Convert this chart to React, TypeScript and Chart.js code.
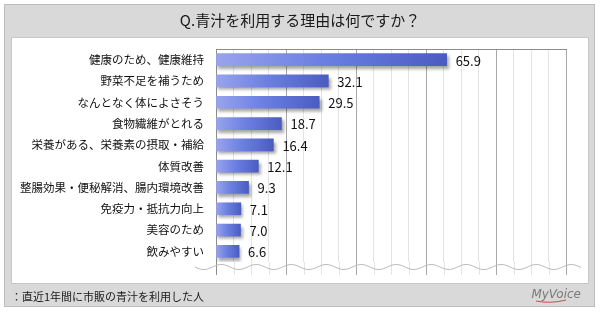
import React, { useEffect, useRef } from 'react';
import { Chart, registerables } from 'chart.js';

Chart.register(...registerables);

const categories = [
  '健康のため、健康維持',
  '野菜不足を補うため',
  'なんとなく体によさそう',
  '食物繊維がとれる',
  '栄養がある、栄養素の摂取・補給',
  '体質改善',
  '整腸効果・便秘解消、腸内環境改善',
  '免疫力・抵抗力向上',
  '美容のため',
  '飲みやすい',
];
const values = [65.9, 32.1, 29.5, 18.7, 16.4, 12.1, 9.3, 7.1, 7.0, 6.6];
const valueLabels = values.map((v) => v.toFixed(1));
const titleText = 'Q.青汁を利用する理由は何ですか？';
const footnoteText = '：直近1年間に市販の青汁を利用した人';
const brandText = 'MyVoice';
const axisMin = 0;
const axisMax = 100;
const minorStep = 5;
const majorStep = 20;

const FONT = '"Noto Sans CJK JP", "Noto Sans", sans-serif';

export default function App() {
  const ref = useRef<HTMLCanvasElement | null>(null);

  useEffect(() => {
    const canvas = ref.current;
    if (!canvas) return;

    const gridColor = (v: number) => (v % majorStep === 0 ? '#a8a8a8' : '#e4e4e4');

    const decor = {
      id: 'decor',
      beforeDraw(chart: any) {
        const ctx = chart.ctx;
        ctx.save();
        // outer panel
        ctx.fillStyle = '#d9d9d9';
        ctx.fillRect(4, 4, 591, 303);
        ctx.strokeStyle = '#bcbcbc';
        ctx.lineWidth = 1;
        ctx.strokeRect(4.5, 4.5, 590, 302);
        // inner white panel
        ctx.fillStyle = '#ffffff';
        ctx.fillRect(11, 37, 578, 247);
        ctx.strokeStyle = '#c6c6c6';
        ctx.strokeRect(11.5, 37.5, 577, 246);
        // title
        ctx.fillStyle = '#1a1a1a';
        ctx.font = `15px ${FONT}`;
        ctx.textAlign = 'center';
        ctx.textBaseline = 'middle';
        ctx.fillText(titleText, 300, 20);
        // footnote
        ctx.font = `11px ${FONT}`;
        ctx.textAlign = 'left';
        ctx.fillText(footnoteText, 11, 297);
        // brand
        ctx.font = `italic 12px "DejaVu Sans", sans-serif`;
        ctx.fillStyle = '#7a7a7a';
        ctx.textAlign = 'right';
        ctx.fillText(brandText, 581, 295);
        ctx.strokeStyle = '#c0504d';
        ctx.lineWidth = 1;
        ctx.beginPath();
        ctx.moveTo(536, 301);
        ctx.quadraticCurveTo(550, 304, 566, 300);
        ctx.stroke();
        ctx.restore();
      },
      beforeDatasetsDraw(chart: any) {
        const ctx = chart.ctx;
        const xs = chart.scales.x;
        const area = chart.chartArea;
        const extBottom = 275;
        ctx.save();
        ctx.lineWidth = 1;
        for (let v = axisMin; v <= axisMax; v += minorStep) {
          const px = Math.round(xs.getPixelForValue(v)) + 0.5;
          ctx.strokeStyle = v === 0 ? '#8c8c8c' : gridColor(v);
          ctx.beginPath();
          ctx.moveTo(px, area.bottom);
          ctx.lineTo(px, extBottom);
          ctx.stroke();
        }
        // wavy break line
        ctx.strokeStyle = '#bdbdbd';
        ctx.beginPath();
        const y0 = 267;
        for (let x = 195; x <= 581; x += 1) {
          const y = y0 + 2.5 * Math.sin(((x - 195) / 35) * Math.PI * 2);
          if (x === 195) ctx.moveTo(x, y);
          else ctx.lineTo(x, y);
        }
        ctx.stroke();
        ctx.restore();

        // shadow for bars
        ctx.save();
        ctx.shadowColor = 'rgba(0,0,0,0.35)';
        ctx.shadowOffsetX = 2;
        ctx.shadowOffsetY = 3;
        ctx.shadowBlur = 3;
      },
      afterDatasetsDraw(chart: any) {
        const ctx = chart.ctx;
        ctx.restore();
        ctx.save();
        const meta = chart.getDatasetMeta(0);
        ctx.font = `13px ${FONT}`;
        ctx.fillStyle = '#111111';
        ctx.textAlign = 'left';
        ctx.textBaseline = 'middle';
        meta.data.forEach((bar: any, i: number) => {
          ctx.fillText(valueLabels[i], bar.x + 9, bar.y + 1);
        });
        ctx.restore();
      },
    };

    const chart = new Chart(canvas, {
      type: 'bar',
      data: {
        labels: categories,
        datasets: [
          {
            data: values,
            barThickness: 12,
            borderWidth: 0,
            backgroundColor: (c: any) => {
              const ch = c.chart;
              if (!ch.chartArea || !ch.scales.x) return '#6a7fe0';
              const xs = ch.scales.x;
              const x0 = xs.getPixelForValue(0);
              const v = typeof c.raw === 'number' ? c.raw : 0;
              const x1 = xs.getPixelForValue(v);
              const g = ch.ctx.createLinearGradient(x0, 0, Math.max(x1, x0 + 1), 0);
              g.addColorStop(0, '#99a4ec');
              g.addColorStop(0.45, '#6c80e2');
              g.addColorStop(1, '#4a5cc0');
              return g;
            },
          },
        ],
      },
      options: {
        indexAxis: 'y',
        responsive: false,
        animation: false,
        devicePixelRatio: 1,
        layout: { padding: { top: 49, bottom: 50, left: 0, right: 34 } },
        plugins: {
          legend: { display: false },
          tooltip: { enabled: false },
          title: { display: false },
        },
        scales: {
          x: {
            position: 'top',
            min: axisMin,
            max: axisMax,
            ticks: { display: false, stepSize: minorStep },
            grid: {
              drawTicks: false,
              color: (c: any) => gridColor(c.tick ? c.tick.value : 0),
              lineWidth: 1,
            },
            border: { display: true, color: '#8c8c8c', width: 1 },
          },
          y: {
            grid: { display: false, drawTicks: false },
            border: { display: true, color: '#8c8c8c', width: 1 },
            ticks: {
              padding: 12,
              color: '#111111',
              font: { family: FONT, size: 11.5 },
            },
            afterFit: (s: any) => {
              s.width = 216;
            },
          },
        },
      },
      plugins: [decor],
    } as any);

    return () => chart.destroy();
  }, []);

  return (
    <div style={{ position: 'fixed', left: 0, top: 0, width: 600, height: 312 }}>
      <canvas ref={ref} width={600} height={312} style={{ width: 600, height: 312, display: 'block' }} />
    </div>
  );
}
